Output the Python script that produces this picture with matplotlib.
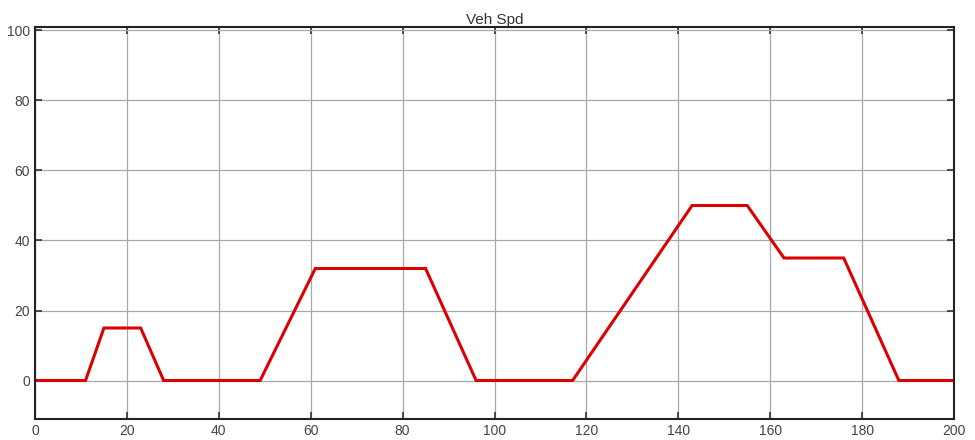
import numpy as np
import matplotlib
matplotlib.use("Agg")
import matplotlib.pyplot as plt

# ECE-15 style speed profile (breakpoints)
t = [0, 11, 15, 23, 28, 49, 61, 85, 96, 117, 143, 155, 163, 176, 188, 200]
spd = [0, 0, 15, 15, 0, 0, 32, 32, 0, 0, 50, 50, 35, 35, 0, 0]

xticks = [0, 20, 40, 60, 80, 100, 120, 140, 160, 180, 200]
yticks = [0, 20, 40, 60, 80, 100]

plt.rcParams['font.family'] = ['Liberation Sans', 'DejaVu Sans']

fig = plt.figure(figsize=(9.75, 4.4), dpi=100)
ax = fig.add_axes([35/975, 21/440, 919/975, 392/440])

ax.plot(t, spd, color='#dd0000', lw=2.2, solid_joinstyle='miter')

ax.set_xlim(0, 200)
ax.set_ylim(-11, 101)
ax.set_xticks(xticks)
ax.set_yticks(yticks)
ax.grid(True, color='#a8a8a8', lw=0.9)
ax.tick_params(direction='in', length=5, width=1.2, labelsize=10,
               colors='#333333', labelcolor='#444444', top=True, right=True)
for s in ax.spines.values():
    s.set_linewidth(1.5)
    s.set_color('#222222')

ax.set_title('Veh Spd', fontsize=11, color='#333333', pad=2)

fig.savefig('out.png', dpi=100)
